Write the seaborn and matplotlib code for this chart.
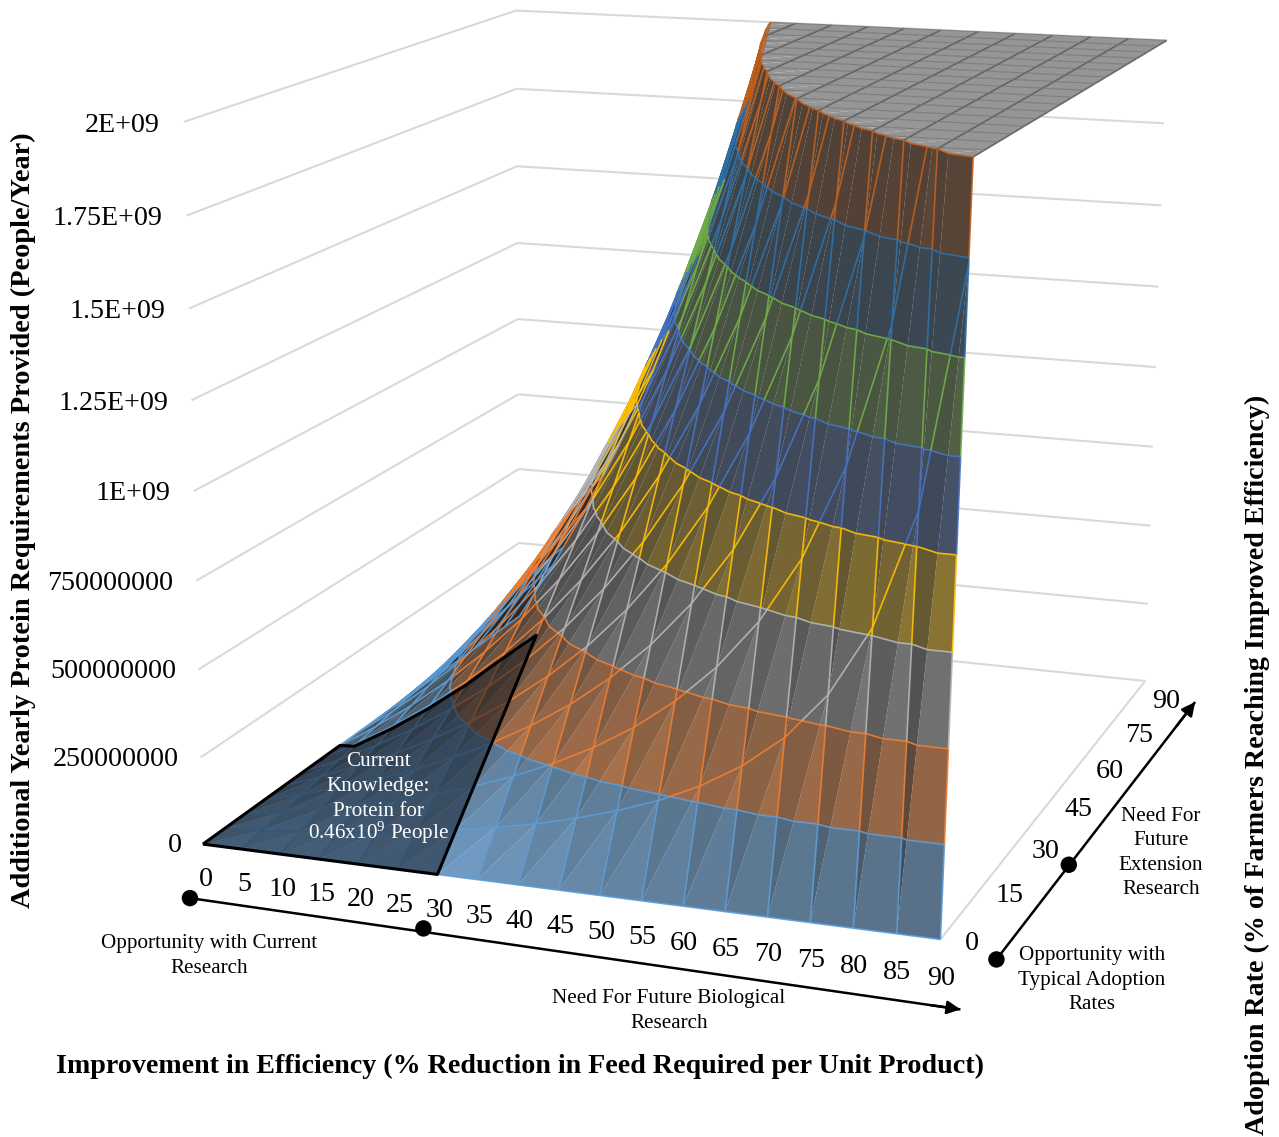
import numpy as np
import matplotlib
matplotlib.use('Agg')
import matplotlib.pyplot as plt
import seaborn as sns
from mpl_toolkits.mplot3d.art3d import Poly3DCollection, Line3DCollection

W, H = 1279, 1137

efficiency = [0, 5, 10, 15, 20, 25, 30, 35, 40, 45, 50, 55, 60, 65, 70, 75, 80, 85, 90]
adoption = [0, 5, 10, 15, 20, 25, 30, 35, 40, 45, 50, 55, 60, 65, 70, 75, 80, 85, 90]
adoption_ticks = [0, 15, 30, 45, 60, 75, 90]
people_ticks = [0, 250, 500, 750, 1000, 1250, 1500, 1750, 2000]
people_labels = ['0', '250000000', '500000000', '750000000', '1E+09', '1.25E+09', '1.5E+09', '1.75E+09', '2E+09']
current_efficiency = 30
current_adoption = 30
# hand-drawn upper edge of the current knowledge region, one adoption per efficiency 0..30
region_adoption = [35, 29, 29, 29, 29, 29, 28]

# million people per year, one row per adoption rate
people = np.array([
    [0, 0, 0, 0, 0, 0, 0, 0, 0, 0, 0, 0, 0, 0, 0, 0, 0, 0, 0],
    [0, 10, 21, 34, 48, 64, 83, 104, 128, 158, 193, 235, 289, 358, 449, 578, 770, 1091, 1733],
    [0, 20, 43, 68, 96, 128, 165, 207, 257, 315, 385, 471, 578, 715, 898, 1155, 1540, 2182, 3465],
    [0, 30, 64, 102, 144, 193, 248, 311, 385, 473, 578, 706, 866, 1073, 1348, 1733, 2310, 3272, 5198],
    [0, 41, 86, 136, 193, 257, 330, 415, 513, 630, 770, 941, 1155, 1430, 1797, 2310, 3080, 4363, 6930],
    [0, 51, 107, 170, 241, 321, 413, 518, 642, 788, 963, 1176, 1444, 1788, 2246, 2888, 3850, 5454, 8663],
    [0, 61, 128, 204, 289, 385, 495, 622, 770, 945, 1155, 1412, 1733, 2145, 2695, 3465, 4620, 6545, 10395],
    [0, 71, 150, 238, 337, 449, 578, 726, 898, 1103, 1348, 1647, 2021, 2503, 3144, 4043, 5390, 7636, 12128],
    [0, 81, 171, 272, 385, 513, 660, 829, 1027, 1260, 1540, 1882, 2310, 2860, 3593, 4620, 6160, 8726, 13860],
    [0, 91, 193, 306, 433, 578, 743, 933, 1155, 1418, 1733, 2118, 2599, 3218, 4043, 5198, 6930, 9817, 15593],
    [0, 101, 214, 340, 481, 642, 825, 1037, 1283, 1575, 1925, 2353, 2888, 3575, 4492, 5775, 7700, 10908, 17325],
    [0, 111, 235, 374, 529, 706, 908, 1140, 1412, 1733, 2118, 2588, 3176, 3933, 4941, 6353, 8470, 11999, 19058],
    [0, 122, 257, 408, 578, 770, 990, 1244, 1540, 1890, 2310, 2823, 3465, 4290, 5390, 6930, 9240, 13090, 20790],
    [0, 132, 278, 442, 626, 834, 1073, 1347, 1668, 2048, 2503, 3059, 3754, 4648, 5839, 7508, 10010, 14180, 22523],
    [0, 142, 299, 476, 674, 898, 1155, 1451, 1797, 2205, 2695, 3294, 4043, 5005, 6288, 8085, 10780, 15271, 24255],
    [0, 152, 321, 510, 722, 963, 1238, 1555, 1925, 2363, 2888, 3529, 4331, 5363, 6738, 8663, 11550, 16362, 25988],
    [0, 162, 342, 544, 770, 1027, 1320, 1658, 2053, 2520, 3080, 3764, 4620, 5720, 7187, 9240, 12320, 17453, 27720],
    [0, 172, 364, 577, 818, 1091, 1403, 1762, 2182, 2678, 3273, 4000, 4909, 6078, 7636, 9818, 13090, 18544, 29453],
    [0, 182, 385, 611, 866, 1155, 1485, 1866, 2310, 2835, 3465, 4235, 5198, 6435, 8085, 10395, 13860, 19634, 31185],
], dtype=float)

sns.set_theme(style='white')
plt.rcParams['font.family'] = ['Liberation Serif', 'DejaVu Serif']
plt.rcParams['mathtext.default'] = 'regular'
plt.rcParams['text.color'] = 'black'
palette = sns.color_palette(['#5B9BD5', '#ED7D31', '#A5A5A5', '#FFC000', '#4472C4', '#70AD47', '#255E91', '#9E480E'])
line_palette = sns.color_palette(['#5B9BD5', '#ED7D31', '#B5B5B5', '#FFC000', '#4472C4', '#70AD47', '#2E6FA8', '#BF5F1C'])
contrast = [1, 1, .85, .7, .45, .45, .45, .45]
darken = [1, 1, .95, .88, .75, .75, .72, .8]
top_fill = (0.59, 0.59, 0.59, 1.0)
zmax = people_ticks[-1]
levels = people_ticks

# camera fitted to the chart corners (x %, y %, z millions) -> pixels
corners = [
    ((0, 0, 0), (205, 840)), ((0, 0, 1000), (192, 490)), ((0, 0, 2000), (183, 123)),
    ((90, 0, 0), (942, 940)), ((90, 90, 0), (1145, 678)), ((90, 90, 1000), (1155, 365)),
    ((90, 90, 2000), (1167, 42)), ((0, 90, 2000), (518, 10)), ((0, 90, 1000), (518, 317)),
    ((0, 90, 0), (518, 622)), ((90, .72, 250), (945, 847)), ((90, 1.44, 500), (947, 750)),
]
rows = []
for (a, b, c), (u, v) in corners:
    a, b, c = a / 100, b / 100, c / 1000
    u, v = u / 1000, v / 1000
    rows.append([a, b, c, 1, 0, 0, 0, 0, -u * a, -u * b, -u * c, -u])
    rows.append([0, 0, 0, 0, a, b, c, 1, -v * a, -v * b, -v * c, -v])
sol = np.linalg.svd(np.array(rows))[2][-1].reshape(3, 4)
cam = np.diag([1000., 1000., 1.]) @ sol @ np.diag([.01, .01, .001, 1.])
if (cam[2] @ [45, 45, 0, 1]) < 0:
    cam = -cam


def px(x, y, z):
    u, v, w = cam @ [x, y, z, 1]
    return u / w, v / w


fig = plt.figure(figsize=(W / 100, H / 100), dpi=100, facecolor='white')
ax = fig.add_axes([0, 0, 1, 1], projection='3d', computed_zorder=False)
ax.set_axis_off()


def pixel_proj():
    inv = ax.transData.inverted()
    o = inv.transform((0, 0))
    ex = inv.transform((1, 0)) - o
    ey = inv.transform((0, 1)) - o
    r0 = ex[0] * cam[0] + (o[0] + ey[0] * H) * cam[2] - ey[0] * cam[1]
    r1 = ex[1] * cam[0] + (o[1] + ey[1] * H) * cam[2] - ey[1] * cam[1]
    return np.array([r0, r1, [0, 0, 0, -1.], cam[2]])


ax.get_proj = pixel_proj


def clip_z(poly, level, above):
    out = []
    for k in range(len(poly)):
        p, q = poly[k], poly[(k + 1) % len(poly)]
        pin = p[2] >= level if above else p[2] <= level
        qin = q[2] >= level if above else q[2] <= level
        if pin:
            out.append(p)
        if pin != qin:
            t = (level - p[2]) / (q[2] - p[2])
            out.append((p[0] + t * (q[0] - p[0]), p[1] + t * (q[1] - p[1]), level))
    return out


def tri_shade(a, b, c):
    # plain lambert, light from the front right and above
    e1 = np.array(b) - np.array(a)
    e2 = np.array(c) - np.array(a)
    scale = np.array([8., 3.7, .38])
    n = np.cross(e1 * scale, e2 * scale)
    if n[2] < 0:
        n = -n
    n = n / (np.linalg.norm(n) + 1e-9)
    light = np.array([1., -.45, .9]) / 1.42
    return float(np.clip(1.5 * n @ light, .2, 1))


faces, face_cols, under = [], [], []
lines, line_cols, line_w = [], [], []
z = people
for j in range(len(adoption) - 1):
    for i in range(len(efficiency) - 1):
        x0, x1 = efficiency[i], efficiency[i + 1]
        y0, y1 = adoption[j], adoption[j + 1]
        p00, p10 = (x0, y0, z[j, i]), (x1, y0, z[j, i + 1])
        p11, p01 = (x1, y1, z[j + 1, i + 1]), (x0, y1, z[j + 1, i])
        if min(p00[2], p10[2], p11[2], p01[2]) >= zmax:
            # whole cell on the plateau, no seam along the diagonal
            flat = [(p[0], p[1], zmax) for p in (p00, p10, p11, p01)]
            faces.append(flat)
            under.append(flat)
            face_cols.append(top_fill)
            continue
        for tri in ([p00, p10, p11], [p00, p11, p01]):
            shade = tri_shade(*tri)
            for b in range(len(levels) - 1):
                part = clip_z(clip_z(tri, levels[b], True), levels[b + 1], False)
                if len(part) >= 3:
                    faces.append(part)
                    under.append(part)
                    s = (.4 + (shade - .4) * contrast[b]) * darken[b]
                    c = np.array(palette[b]) * s
                    face_cols.append((c[0], c[1], c[2], .8))
            part = clip_z(tri, zmax, True)
            if len(part) >= 3:
                flat = [(p[0], p[1], zmax) for p in part]
                faces.append(flat)
                under.append(flat)
                face_cols.append(top_fill)
            # contour lines take the colour of the band below them
            for b, lev in enumerate(levels[1:]):
                pts = []
                for k in range(3):
                    p, q = tri[k], tri[(k + 1) % 3]
                    if (p[2] < lev) != (q[2] < lev):
                        t = (lev - p[2]) / (q[2] - p[2])
                        pts.append((p[0] + t * (q[0] - p[0]), p[1] + t * (q[1] - p[1]), lev))
                if len(pts) == 2:
                    lines.append(pts)
                    line_cols.append(line_palette[b])
                    line_w.append(1.2)


def add_edge(p, q, top_col, top_w):
    # split one grid edge at the contour levels
    zs = sorted([p[2], q[2]])
    cuts = [0.]
    for lev in levels:
        if zs[0] < lev < zs[1]:
            cuts.append((lev - p[2]) / (q[2] - p[2]))
    cuts = sorted(cuts) + [1.]
    for t0, t1 in zip(cuts[:-1], cuts[1:]):
        a = [p[n] + t0 * (q[n] - p[n]) for n in range(3)]
        b = [p[n] + t1 * (q[n] - p[n]) for n in range(3)]
        mid = (a[2] + b[2]) / 2
        if mid >= zmax:
            a[2] = b[2] = zmax
            col = top_col
            lw = top_w
        else:
            col = line_palette[int(np.searchsorted(levels, mid, side='right')) - 1]
            lw = 1.2
        lines.append([tuple(a), tuple(b)])
        line_cols.append(col)
        line_w.append(lw)


for j, y in enumerate(adoption):
    for i, x in enumerate(efficiency):
        if i + 1 < len(efficiency):
            add_edge((x, y, z[j, i]), (efficiency[i + 1], y, z[j, i + 1]), '#787878', .8)
        if j + 1 < len(adoption):
            add_edge((x, y, z[j, i]), (x, adoption[j + 1], z[j + 1, i]), '#5E5E5E', 1.2)

# wall gridlines
xa, xb = efficiency[0], efficiency[-1]
ya, yb = adoption[0], adoption[-1]
wall = []
for t in people_ticks:
    wall.append([(xa, ya, t), (xa, yb, t)])
    wall.append([(xa, yb, t), (xb, yb, t)])
wall.append([(xb, ya, 0), (xb, yb, 0)])
grid = Line3DCollection(wall, colors='#D9D9D9', linewidths=1.5, zorder=1)
ax.add_collection3d(grid, autolim=False)

base = Poly3DCollection(under, facecolors='white', edgecolors='white', linewidths=.6, zorder=2)
ax.add_collection3d(base, autolim=False)
surf = Poly3DCollection(faces, facecolors=face_cols, edgecolors='none', zorder=3)
ax.add_collection3d(surf, autolim=False)
mesh = Line3DCollection(lines, colors=line_cols, linewidths=line_w, alpha=.9, zorder=4)
ax.add_collection3d(mesh, autolim=False)


def surface_at(i, y):
    return float(np.interp(y, adoption, z[:, i]))


# region reached with current knowledge
ic = efficiency.index(current_efficiency)
outline = [(efficiency[0], region_adoption[0] * t / 4, 0.) for t in range(5)]
outline += [(efficiency[i], region_adoption[i], surface_at(i, region_adoption[i])) for i in range(1, ic + 1)]
outline += [(efficiency[ic], 0., 0.)]
outline += [(efficiency[i], adoption[0], 0.) for i in range(ic - 1, -1, -1)]
region = Poly3DCollection([outline], facecolors=(.08, .1, .14, .55), edgecolors='none', zorder=5)
ax.add_collection3d(region, autolim=False)
edge = Line3DCollection([outline + [outline[0]]], colors='black', linewidths=2.2, zorder=6)
ax.add_collection3d(edge, autolim=False)

for c in [grid, base, surf, mesh, region, edge]:
    c.set_clip_on(False)

# overlay in picture pixels for the labels and arrows
ov = fig.add_axes([0, 0, 1, 1], facecolor='none', zorder=5)
tick_fs = 20.2
note_fs = 15.25
spacing = 1.36
for x in efficiency:
    u, v = px(x, 0, 0)
    ov.text(u + 3 - x * .03, v + 35 + x * .04, str(x), ha='center', va='center', fontsize=tick_fs)
for t, lab in zip(people_ticks, people_labels):
    u, v = px(0, 0, t)
    ov.text(u - 21 - t * .002, v + 1.5 + t * .001, lab, ha='right', va='center', fontsize=tick_fs)
for y in adoption_ticks:
    u, v = px(90, y, 0)
    ov.text(u + 31 - y * .11, v + 4 + y * .18, str(y), ha='center', va='center', fontsize=tick_fs)


def arrow_line(start, end):
    ov.plot([start[0], end[0]], [start[1], end[1]], color='black', lw=1.8, solid_capstyle='butt')
    d = np.subtract(end, start) / np.hypot(*np.subtract(end, start))
    ov.annotate('', xy=end, xytext=np.subtract(end, d * 30),
                arrowprops=dict(arrowstyle='-|>', color='black', lw=1.8, mutation_scale=20, shrinkA=0, shrinkB=0))


u0, v0 = px(0, 0, 0)
u1, v1 = px(current_efficiency, 0, 0)
u2, v2 = px(90, 0, 0)
arrow_line((u0 - 13, v0 + 54), (u2 + 20, v2 + 70))
s0, t0 = px(90, 0, 0)
s1, t1 = px(90, current_adoption, 0)
s2, t2 = px(90, 90, 0)
arrow_line((s0 + 56, t0 + 20), (s2 + 50, t2 + 21))
sns.scatterplot(x=[u0 - 13, u1 - 14, s0 + 56, s1 + 51], y=[v0 + 54, v1 + 54, t0 + 20, t1 + 23],
                color='black', s=140, edgecolor='none', legend=False, ax=ov, zorder=7)

knowledge = ['Current', 'Knowledge:', 'Protein for', '0.46x10$^{9}$ People']
for line, yy in zip(knowledge, [761, 786, 811, 833]):
    ov.text(378, yy, line, color='white', ha='center', va='center', fontsize=note_fs)
ov.text(209, 956, 'Opportunity with Current\nResearch', ha='center', va='center', fontsize=note_fs, linespacing=spacing)
ov.text(669, 1011, 'Need For Future Biological\nResearch', ha='center', va='center', fontsize=note_fs, linespacing=spacing)
ov.text(1161, 853, 'Need For\nFuture\nExtension\nResearch', ha='center', va='center', fontsize=note_fs, linespacing=spacing)
ov.text(1092, 980, 'Opportunity with\nTypical Adoption\nRates', ha='center', va='center', fontsize=note_fs, linespacing=spacing)
ov.text(520, 1066, 'Improvement in Efficiency (% Reduction in Feed Required per Unit Product)',
        ha='center', va='center', fontsize=20.15, fontweight='bold')
ov.text(23, 520, 'Additional Yearly Protein Requirements Provided (People/Year)', rotation=90,
        ha='center', va='center', fontsize=20.4, fontweight='bold')
ov.text(1257, 765, 'Adoption Rate (% of Farmers Reaching Improved Efficiency)', rotation=90,
        ha='center', va='center', fontsize=20.15, fontweight='bold')

ov.set_xlim(0, W)
ov.set_ylim(H, 0)
ov.axis('off')

fig.savefig('out.png', dpi=100)
